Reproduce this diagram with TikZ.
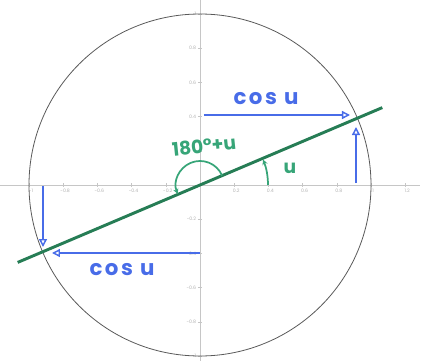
\documentclass[tikz,border=0pt]{standalone}
\usepackage{fontspec}
\setmainfont{Poppins}
\newfontfamily\handfont[LetterSpace=12]{Poppins}
\usetikzlibrary{arrows.meta}
\definecolor{gline}{RGB}{38,125,85}
\definecolor{gtext}{RGB}{55,165,120}
\definecolor{bl}{RGB}{72,108,232}
\begin{document}
\begin{tikzpicture}[x=0.75pt,y=-0.75pt,
  axisline/.style={draw=gray!45,line width=0.4pt},
  circline/.style={draw=gray!70!black,line width=0.6pt},
  ticklbl/.style={text=gray!60,font=\fontsize{3.5}{4}\selectfont,inner sep=0.5pt},
  barrow/.style={draw=bl,line width=1.1pt,-{Triangle[open,length=6pt,width=6pt]}},
  garrow/.style={draw=gtext,line width=1.3pt,-{Stealth[length=4pt,width=4pt]}},
  bluetxt/.style={text=bl,font=\handfont\bfseries\fontsize{16}{16}\selectfont},
  greentxt/.style={text=gtext,font=\bfseries\fontsize{14}{14}\selectfont}]
\useasboundingbox (0,0) rectangle (430,361);
\coordinate (O) at (200,185);
% axes
\coordinate (XL) at (0,185); \coordinate (XR) at (420,185);
\coordinate (YT) at (200,0); \coordinate (YB) at (200,361);
\draw[axisline] (XL) -- (XR);
\draw[axisline] (YT) -- (YB);
\foreach \k/\l in {-5/-1,-4/-0.8,-3/-0.6,-2/-0.4,-1/-0.2,1/0.2,2/0.4,3/0.6,4/0.8,5/1,6/1.2}{
  \draw[axisline] (200+\k*34.2,183) -- (200+\k*34.2,187);
  \node[ticklbl,anchor=north] (tx\k) at (200+\k*34.2+2,188) {\l};
}
\foreach \k/\l in {-5/-1,-4/-0.8,-3/-0.6,-2/-0.4,-1/-0.2,2/0.4,3/0.6,4/0.8,5/1}{
  \draw[axisline] (198,185-\k*34.2) -- (202,185-\k*34.2);
  \node[ticklbl,anchor=east] (ty\k) at (197,185-\k*34.2) {\l};
}
\draw[axisline] (198,150.8) -- (202,150.8);
% unit circle
\draw[circline] (O) circle[radius=171];
% green line through the centre
\coordinate (A) at (17.7,262.4);
\coordinate (B) at (382.3,107.6);
\draw[draw=gline,line width=2.2pt] (A) -- (B);
% blue arrows
\coordinate (U1) at (204,115); \coordinate (U2) at (350,115);
\draw[barrow] (U1) -- (U2);
\coordinate (R1) at (356,183); \coordinate (R2) at (356,127);
\draw[barrow] (R1) -- (R2);
\coordinate (L1) at (43,186); \coordinate (L2) at (43,247);
\draw[barrow] (L1) -- (L2);
\coordinate (D1) at (200,253); \coordinate (D2) at (52,253);
\draw[barrow] (D1) -- (D2);
% angle arcs
\coordinate (S1) at (222.1,175.6);
\draw[garrow] (S1) arc[start angle=-23,end angle=-202,radius=24];
\coordinate (S2) at (268,185);
\draw[garrow] (S2) arc[start angle=0,end angle=-22,radius=68];
% labels
\node[bluetxt] (c1) at (266,99) {cos u};
\node[bluetxt] (c2) at (122,270) {cos u};
\node[greentxt,rotate=6] (t) at (204,146) {180°+u};
\node[greentxt] (u) at (290,168) {u};
\end{tikzpicture}
\end{document}
